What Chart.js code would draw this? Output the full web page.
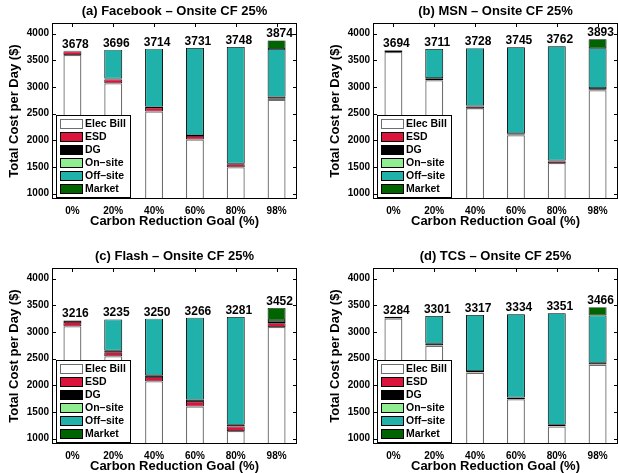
<!DOCTYPE html>
<html>
<head>
<meta charset="utf-8">
<script src="https://cdn.jsdelivr.net/npm/chart.js@4.4.0/dist/chart.umd.min.js"></script>
<style>
html, body { margin: 0; padding: 0; background: #fff; overflow: hidden; }
body { width: 618px; height: 473px; position: relative; }
canvas { position: absolute; }
</style>
</head>
<body>
<canvas id="fb" width="309" height="236" style="left:0px;top:0px"></canvas>
<canvas id="msn" width="309" height="236" style="left:321px;top:0px"></canvas>
<canvas id="flash" width="309" height="236" style="left:0px;top:245px"></canvas>
<canvas id="tcs" width="309" height="236" style="left:321px;top:245px"></canvas>
<script>
const goals = ["0%", "20%", "40%", "60%", "80%", "98%"];
const yTicks = [1000, 1500, 2000, 2500, 3000, 3500, 4000];
const seriesNames = ["Elec Bill", "ESD", "DG", "On\u2013site", "Off\u2013site", "Market"];

// (a) Facebook
const fbElec = [3600, 3072, 2542, 2018, 1494, 2760];
const fbEsd = [64, 68, 66, 64, 58, 18];
const fbDg = [14, 18, 20, 16, 16, 37];
const fbOnsite = [0, 0, 0, 0, 0, 0];
const fbOffsite = [0, 538, 1086, 1633, 2180, 898];
const fbMarket = [0, 0, 0, 0, 0, 161];
const fbTotal = [3678, 3696, 3714, 3731, 3748, 3874];

// (b) MSN
const msnElec = [3655, 3126, 2604, 2096, 1574, 2938];
const msnEsd = [28, 28, 30, 14, 36, 10];
const msnDg = [11, 14, 13, 25, 14, 35];
const msnOnsite = [0, 0, 0, 0, 0, 0];
const msnOffsite = [0, 543, 1081, 1610, 2138, 743];
const msnMarket = [0, 0, 0, 0, 0, 167];
const msnTotal = [3694, 3711, 3728, 3745, 3762, 3893];

// (c) Flash
const flashElec = [3110, 2545, 2078, 1605, 1144, 3096];
const flashEsd = [76, 74, 78, 84, 84, 68];
const flashDg = [30, 37, 33, 39, 33, 24];
const flashOnsite = [0, 0, 0, 0, 0, 35];
const flashOffsite = [0, 579, 1061, 1538, 2020, 0];
const flashMarket = [0, 0, 0, 0, 0, 229];
const flashTotal = [3216, 3235, 3250, 3266, 3281, 3452];

// (d) TCS
const tcsElec = [3256, 2743, 2239, 1741, 1230, 2388];
const tcsEsd = [5, 5, 5, 5, 5, 5];
const tcsDg = [23, 32, 26, 26, 26, 32];
const tcsOnsite = [0, 0, 0, 0, 0, 0];
const tcsOffsite = [0, 521, 1047, 1562, 2090, 884];
const tcsMarket = [0, 0, 0, 0, 0, 157];
const tcsTotal = [3284, 3301, 3317, 3334, 3351, 3466];

const fills = ["#ffffff", "#dc143c", "#000000", "#90ee90", "#20b2aa", "#006400"];
const edges = ["#6e6e6e", "#000000", "#000000", "#000000", "#000000", "#000000"];
const family = '"Liberation Sans", Arial, Helvetica, sans-serif';

// titles, box, inward ticks, totals and the legend (drawn MATLAB style)
const decor = {
	id: "decor",
	afterDatasetsDraw(chart, args, opts) {
		const { ctx, chartArea: a, scales: { x, y } } = chart;
		ctx.save();

		ctx.fillStyle = "#000";
		ctx.font = "bold 13px " + family;
		ctx.textAlign = "center";
		ctx.textBaseline = "middle";
		ctx.fillText(opts.title, (a.left + a.right) / 2, 11);

		ctx.strokeStyle = "#000";
		ctx.lineWidth = 1;
		ctx.strokeRect(a.left + 0.5, a.top + 0.5, a.right - a.left - 1, a.bottom - a.top - 1);
		ctx.beginPath();
		y.ticks.forEach((t) => {
			const py = Math.round(y.getPixelForValue(t.value)) + 0.5;
			ctx.moveTo(a.left, py);
			ctx.lineTo(a.left + 4, py);
			ctx.moveTo(a.right, py);
			ctx.lineTo(a.right - 4, py);
		});
		goals.forEach((g, i) => {
			const px = Math.round(x.getPixelForValue(i)) + 0.5;
			ctx.moveTo(px, a.top);
			ctx.lineTo(px, a.top + 4);
		});
		ctx.stroke();

		ctx.font = "bold 12px " + family;
		ctx.textBaseline = "alphabetic";
		opts.totals.forEach((v, i) => {
			ctx.fillText(String(v), x.getPixelForValue(i) + 3, y.getPixelForValue(v) - 3);
		});

		// legend
		const lx = a.left + 4, lw = 74, lh = 82;
		const ly = a.bottom - 2 - lh;
		ctx.fillStyle = "#fff";
		ctx.fillRect(lx, ly, lw, lh);
		ctx.strokeRect(lx + 0.5, ly + 0.5, lw, lh);
		ctx.font = "bold 10.5px " + family;
		ctx.textAlign = "left";
		ctx.textBaseline = "middle";
		chart.data.datasets.forEach((ds, k) => {
			const cy = ly + 9 + k * 13;
			ctx.fillStyle = ds.backgroundColor;
			ctx.fillRect(lx + 4, cy - 4.5, 22, 9);
			ctx.strokeStyle = ds.borderColor;
			ctx.strokeRect(lx + 4.5, cy - 4.5, 22, 9);
			ctx.fillStyle = "#000";
			ctx.fillText(ds.label, lx + 29, cy + 0.5);
		});
		ctx.restore();
	},
};

function makeDatasets(rows) {
	return seriesNames.map((name, k) => ({
		label: name,
		data: rows[k],
		backgroundColor: fills[k],
		borderColor: edges[k],
		borderWidth: k === 0 ? 1.3 : { top: 0.7, bottom: 0.7, left: 1, right: 1 },
		borderSkipped: k === 0 ? "start" : false,
		categoryPercentage: 1.0,
		barPercentage: 0.44,
	}));
}

function makePanel(id, title, rows, totals) {
	const tickFont = { family: family, size: 10, weight: "bold" };
	const titleFont = { family: family, size: 13, weight: "bold" };
	return new Chart(document.getElementById(id), {
		type: "bar",
		data: { labels: goals, datasets: makeDatasets(rows) },
		plugins: [decor],
		options: {
			responsive: false,
			animation: false,
			devicePixelRatio: 1,
			layout: { padding: { top: 23, right: 12, left: 0, bottom: 0 } },
			plugins: {
				legend: { display: false },
				title: { display: false },
				tooltip: { enabled: false },
				decor: { title: title, totals: totals },
			},
			scales: {
				x: {
					stacked: true,
					afterFit: (s) => { s.height = 37; },
					grid: { display: false, drawTicks: false },
					border: { display: false },
					ticks: { font: tickFont, color: "#000", padding: 6, maxRotation: 0, autoSkip: false },
					title: { display: true, text: "Carbon Reduction Goal (%)", font: titleFont, color: "#000", padding: { top: 0, bottom: 6.5 } },
				},
				y: {
					stacked: true,
					min: 900,
					max: 4200,
					afterBuildTicks: (s) => { s.ticks = yTicks.map((v) => ({ value: v })); },
					afterFit: (s) => { s.width = 52; },
					grid: { display: false, drawTicks: false },
					border: { display: false },
					ticks: { font: tickFont, color: "#000", padding: 3, callback: (v) => String(v) },
					title: { display: true, text: "Total Cost per Day ($)", font: titleFont, color: "#000", padding: { top: 7, bottom: 0 } },
				},
			},
		},
	});
}

makePanel("fb", "(a) Facebook \u2013 Onsite CF 25%", [fbElec, fbEsd, fbDg, fbOnsite, fbOffsite, fbMarket], fbTotal);
makePanel("msn", "(b) MSN \u2013 Onsite CF 25%", [msnElec, msnEsd, msnDg, msnOnsite, msnOffsite, msnMarket], msnTotal);
makePanel("flash", "(c) Flash \u2013 Onsite CF 25%", [flashElec, flashEsd, flashDg, flashOnsite, flashOffsite, flashMarket], flashTotal);
makePanel("tcs", "(d) TCS \u2013 Onsite CF 25%", [tcsElec, tcsEsd, tcsDg, tcsOnsite, tcsOffsite, tcsMarket], tcsTotal);
</script>
</body>
</html>
